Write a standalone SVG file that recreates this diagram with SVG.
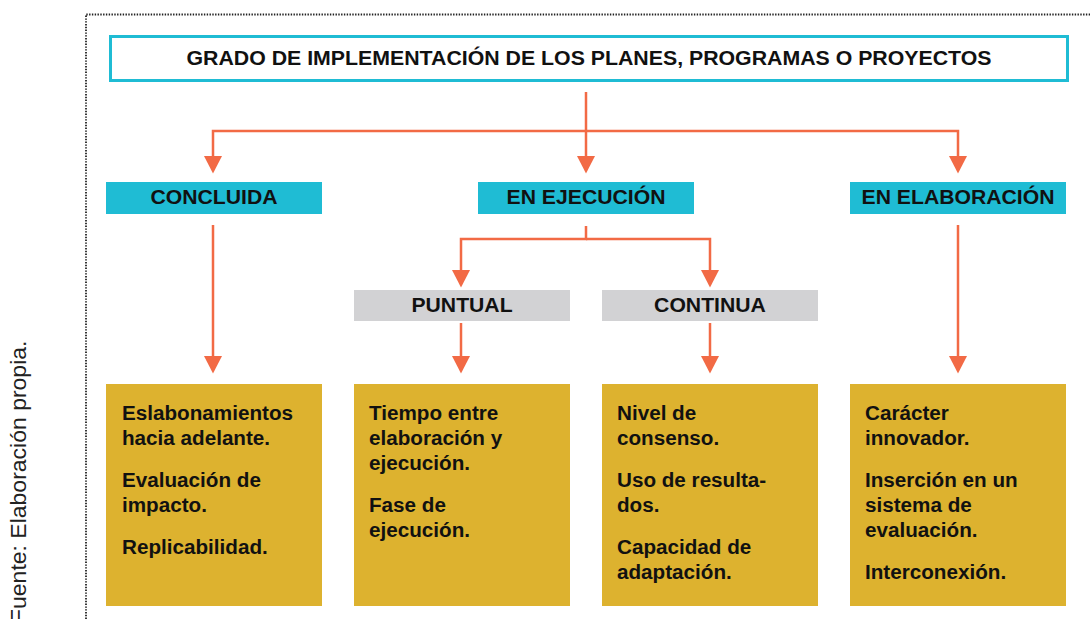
<svg xmlns="http://www.w3.org/2000/svg" width="1090" height="619" viewBox="0 0 1090 619">
<style>
.lbl{font-family:"Liberation Sans",Arial,Helvetica,sans-serif;font-weight:bold;font-size:20px;fill:#111;text-anchor:middle}
.body{font-family:"Liberation Sans",Arial,Helvetica,sans-serif;font-weight:bold;font-size:19.5px;fill:#111}
.src{font-family:"Liberation Sans",Arial,Helvetica,sans-serif;font-size:21.5px;fill:#222}
.cyan{fill:#1fbcd4}
.grey{fill:#d2d2d4}
.gold{fill:#ddb22f}
.conn{fill:none;stroke:#f26a45;stroke-width:2.5}
.dot{fill:none;stroke:#222;stroke-width:1.8;stroke-dasharray:1.4 1.4}
</style>
<defs>
<marker id="arr" markerUnits="userSpaceOnUse" markerWidth="18" markerHeight="18" viewBox="0 0 18 18" refX="8" refY="9" orient="auto">
<path d="M0,0 L17.5,9 L0,18 Z" fill="#f26a45"/>
</marker>
</defs>
<g id="frame">
<path class="dot" d="M86,619 V14.5 H1090"/>
</g>
<g id="source">
<text class="src" transform="translate(26 623) rotate(-90) scale(1.07 1)">Fuente: Elaboración propia.</text>
</g>
<g id="connectors">
<path class="conn" d="M586,92 V164" marker-end="url(#arr)"/>
<path class="conn" d="M586,131 H213 V164" marker-end="url(#arr)"/>
<path class="conn" d="M586,131 H958 V164" marker-end="url(#arr)"/>
<path class="conn" d="M213,225 V364" marker-end="url(#arr)"/>
<path class="conn" d="M958,225 V364" marker-end="url(#arr)"/>
<path class="conn" d="M586,226 V239 H461 V278" marker-end="url(#arr)"/>
<path class="conn" d="M586,239 H710 V278" marker-end="url(#arr)"/>
<path class="conn" d="M461,323 V364" marker-end="url(#arr)"/>
<path class="conn" d="M710,323 V364" marker-end="url(#arr)"/>
</g>
<g id="title">
<rect x="110.5" y="36.5" width="957" height="44" fill="#fff" stroke="#1fbcd4" stroke-width="3"/>
<text class="lbl" transform="translate(589 64.5) scale(1.065 1)">GRADO DE IMPLEMENTACIÓN DE LOS PLANES, PROGRAMAS O PROYECTOS</text>
</g>
<g id="concluida">
<rect class="cyan" x="106" y="182" width="216" height="32"/>
<text class="lbl" transform="translate(214 204) scale(1.06 1)">CONCLUIDA</text>
</g>
<g id="en-ejecucion">
<rect class="cyan" x="478" y="182" width="216" height="32"/>
<text class="lbl" transform="translate(586 204) scale(1.06 1)">EN EJECUCIÓN</text>
</g>
<g id="en-elaboracion">
<rect class="cyan" x="850" y="182" width="216" height="32"/>
<text class="lbl" transform="translate(958 204) scale(1.06 1)">EN ELABORACIÓN</text>
</g>
<g id="puntual">
<rect class="grey" x="354" y="290" width="216" height="31"/>
<text class="lbl" transform="translate(462 312) scale(1.06 1)">PUNTUAL</text>
</g>
<g id="continua">
<rect class="grey" x="602" y="290" width="216" height="31"/>
<text class="lbl" transform="translate(710 312) scale(1.06 1)">CONTINUA</text>
</g>
<g id="box-concluida">
<rect class="gold" x="106" y="384" width="216" height="222"/>
<text class="body" transform="translate(122 420) scale(1.06 1)"><tspan x="0" y="0">Eslabonamientos</tspan><tspan x="0" y="25">hacia adelante.</tspan><tspan x="0" y="67">Evaluación de</tspan><tspan x="0" y="92">impacto.</tspan><tspan x="0" y="134">Replicabilidad.</tspan></text>
</g>
<g id="box-puntual">
<rect class="gold" x="354" y="384" width="216" height="222"/>
<text class="body" transform="translate(369 420) scale(1.06 1)"><tspan x="0" y="0">Tiempo entre</tspan><tspan x="0" y="25">elaboración y</tspan><tspan x="0" y="50">ejecución.</tspan><tspan x="0" y="92">Fase de</tspan><tspan x="0" y="117">ejecución.</tspan></text>
</g>
<g id="box-continua">
<rect class="gold" x="602" y="384" width="216" height="222"/>
<text class="body" transform="translate(617 420) scale(1.06 1)"><tspan x="0" y="0">Nivel de</tspan><tspan x="0" y="25">consenso.</tspan><tspan x="0" y="67">Uso de resulta-</tspan><tspan x="0" y="92">dos.</tspan><tspan x="0" y="134">Capacidad de</tspan><tspan x="0" y="159">adaptación.</tspan></text>
</g>
<g id="box-elaboracion">
<rect class="gold" x="850" y="384" width="216" height="222"/>
<text class="body" transform="translate(865 420) scale(1.06 1)"><tspan x="0" y="0">Carácter</tspan><tspan x="0" y="25">innovador.</tspan><tspan x="0" y="67">Inserción en un</tspan><tspan x="0" y="92">sistema de</tspan><tspan x="0" y="117">evaluación.</tspan><tspan x="0" y="159">Interconexión.</tspan></text>
</g>
</svg>
